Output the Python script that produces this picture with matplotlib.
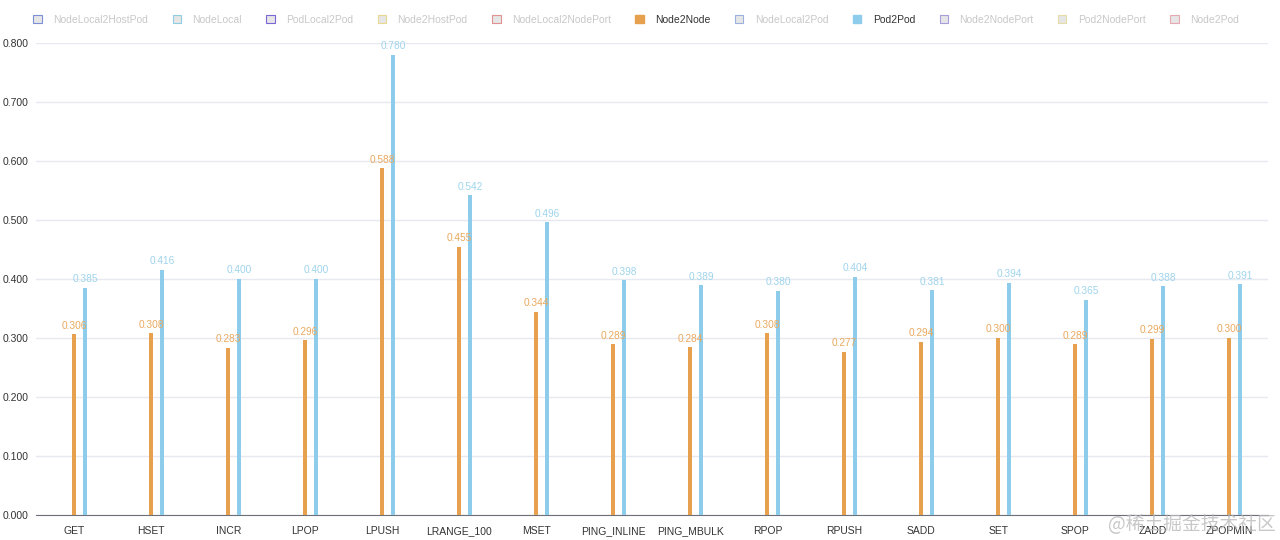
import numpy as np
import matplotlib.pyplot as plt
from matplotlib.patches import Patch

plt.rcParams['font.family'] = ['Liberation Sans', 'DejaVu Sans']

# dades del gràfic
categories = ["GET", "HSET", "INCR", "LPOP", "LPUSH", "LRANGE_100", "MSET", "PING_INLINE",
              "PING_MBULK", "RPOP", "RPUSH", "SADD", "SET", "SPOP", "ZADD", "ZPOPMIN"]
node2node = [0.306, 0.308, 0.283, 0.296, 0.588, 0.455, 0.344, 0.289,
             0.284, 0.308, 0.277, 0.294, 0.300, 0.289, 0.299, 0.300]
pod2pod = [0.385, 0.416, 0.400, 0.400, 0.780, 0.542, 0.496, 0.398,
           0.389, 0.380, 0.404, 0.381, 0.394, 0.365, 0.388, 0.391]

legend_names = ["NodeLocal2HostPod", "NodeLocal", "PodLocal2Pod", "Node2HostPod",
                "NodeLocal2NodePort", "Node2Node", "NodeLocal2Pod", "Pod2Pod",
                "Node2NodePort", "Pod2NodePort", "Node2Pod"]
legend_edge = ["#7d8fd6", "#8fcde3", "#7c66d6", "#e8d890", "#e29191", "#e6a04e",
               "#9cb0de", "#8dcdeb", "#a79ddc", "#e6dca8", "#e6a8b2"]
active = {"Node2Node", "Pod2Pod"}

orange = "#e6a04e"
blue = "#8dcdeb"

fig = plt.figure(figsize=(12.8, 5.4), dpi=100)
ax = fig.add_axes([0.028, 0.0463, 0.9625, 0.8741])

x = np.arange(len(categories))
w = 0.055
off = 0.143
ax.bar(x, node2node, width=w, color=orange, zorder=3)
ax.bar(x + off, pod2pod, width=w, color=blue, zorder=3)

for xi, v in zip(x, node2node):
    ax.text(xi, v + 0.006, f"{v:.3f}", ha="center", va="bottom", fontsize=7.3, color="#eaa95f")
for xi, v in zip(x, pod2pod):
    ax.text(xi + off, v + 0.006, f"{v:.3f}", ha="center", va="bottom", fontsize=7.3, color="#9fd4ec")

ax.set_xlim(-0.5, len(categories) - 0.5)
ax.set_ylim(0, 0.8)
ticks = np.arange(0, 0.81, 0.1)
ax.set_yticks(ticks)
ax.set_yticklabels([f"{t:.3f}" for t in ticks])
ax.set_xticks(x)
ax.set_xticklabels(categories)
ax.tick_params(axis="both", length=0, labelsize=7.5, colors="#333333")
ax.tick_params(axis="x", pad=8)
ax.tick_params(axis="y", pad=5)
ax.grid(axis="y", color="#e6e9f0", linewidth=1, zorder=0)
for s in ["top", "right", "left"]:
    ax.spines[s].set_visible(False)
ax.spines["bottom"].set_color("#6e7079")

# llegenda
handles = []
for name, ec in zip(legend_names, legend_edge):
    if name in active:
        handles.append(Patch(facecolor=ec, edgecolor=ec))
    else:
        handles.append(Patch(facecolor="#e6e6e6", edgecolor=ec, linewidth=0.8))
leg = fig.legend(handles, legend_names, ncol=11, loc="upper center", bbox_to_anchor=(0.497, 0.99),
                 frameon=False, fontsize=7.5, handlelength=0.8, handleheight=0.8,
                 handletextpad=1.1, columnspacing=2.35)
for t in leg.get_texts():
    t.set_color("#333333" if t.get_text() in active else "#c8c8c8")

# marca d'aigua
fig.text(0.997, 0.010, "@稀土掘金技术社区", ha="right", va="bottom", fontsize=13.5,
         color="#bbbbbb", alpha=0.8, family=["Noto Sans CJK SC", "DejaVu Sans"])

fig.savefig("out.png", dpi=100)
